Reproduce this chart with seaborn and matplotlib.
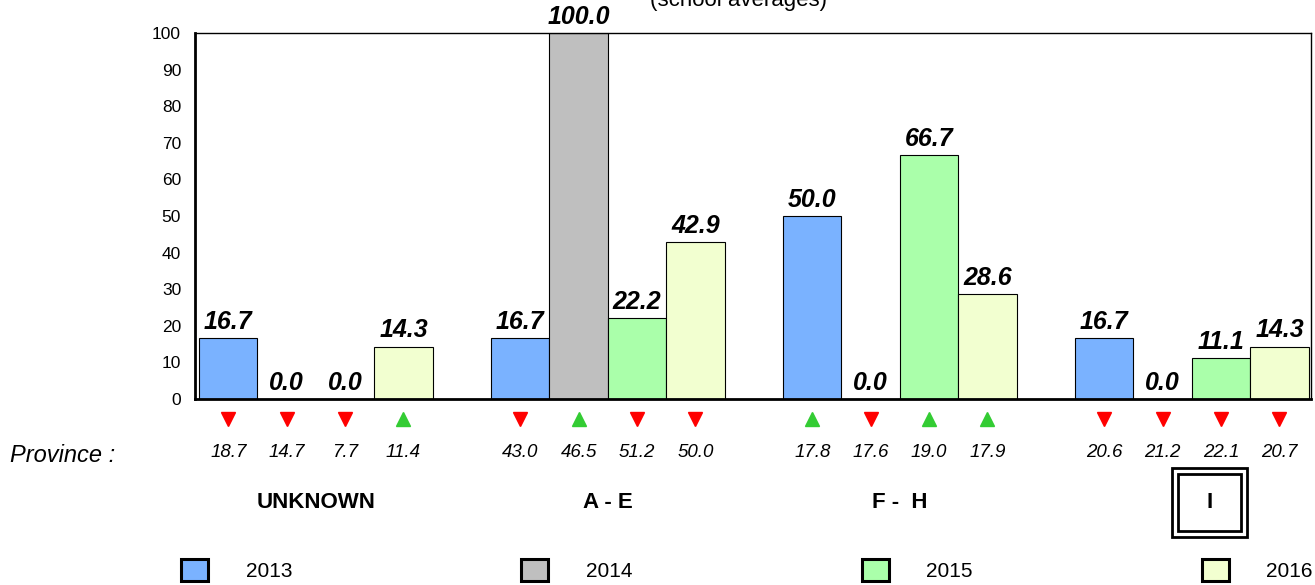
import numpy as np
import pandas as pd
import seaborn as sns
import matplotlib.pyplot as plt
from matplotlib.patches import Patch, Rectangle

groups = ['UNKNOWN', 'A - E', 'F -  H', 'I']
years = ['2013', '2014', '2015', '2016']

school_2013 = [16.7, 16.7, 50.0, 16.7]
school_2014 = [0.0, 100.0, 0.0, 0.0]
school_2015 = [0.0, 22.2, 66.7, 11.1]
school_2016 = [14.3, 42.9, 28.6, 14.3]

province_2013 = [18.7, 43.0, 17.8, 20.6]
province_2014 = [14.7, 46.5, 17.6, 21.2]
province_2015 = [7.7, 51.2, 19.0, 22.1]
province_2016 = [11.4, 50.0, 17.9, 20.7]

# 1 = green arrow up, 0 = red arrow down
trend_2013 = [0, 0, 1, 0]
trend_2014 = [0, 1, 0, 0]
trend_2015 = [0, 0, 1, 0]
trend_2016 = [1, 0, 1, 0]

colors = ['#7AB2FF', '#BFBFBF', '#AAFFAA', '#F2FFD0']

school = [school_2013, school_2014, school_2015, school_2016]
province = [province_2013, province_2014, province_2015, province_2016]
trend = [trend_2013, trend_2014, trend_2015, trend_2016]

df = pd.DataFrame({
    'Group': np.tile(groups, len(years)),
    'Year': np.repeat(years, len(groups)),
    'Value': np.concatenate(school),
})

sns.set_style("white")
plt.rcParams['font.family'] = ['Liberation Sans', 'DejaVu Sans']
plt.rcParams['text.color'] = 'black'
plt.rcParams['ytick.color'] = 'black'
plt.rcParams['xtick.color'] = 'black'

fig = plt.figure(figsize=(13.15, 5.85), dpi=100)
ax = fig.add_axes([195 / 1315, 1 - 399 / 585, 1116 / 1315, 366 / 585])

sns.barplot(data=df, x='Group', y='Value', hue='Year', order=groups, hue_order=years,
            palette=colors, edgecolor='black', linewidth=0.8, width=0.8,
            legend=False, ax=ax, saturation=1)

ax.set_xlim(-0.414, 3.408)
ax.set_ylim(0, 100)
ax.set_yticks(range(0, 101, 10))
ax.tick_params(axis='y', labelsize=12.5, length=0, pad=10)
ax.set_xticks([])
ax.set_xlabel('')
ax.set_ylabel('')
for side in ['top', 'right']:
    ax.spines[side].set_linewidth(1)
    ax.spines[side].set_color('black')
for side in ['left', 'bottom']:
    ax.spines[side].set_linewidth(2)
    ax.spines[side].set_color('black')

for container in ax.containers:
    ax.bar_label(container, fmt='%.1f', padding=3, fontsize=18,
                 fontweight='bold', fontstyle='italic')

trans = ax.get_xaxis_transform()
for k, container in enumerate(ax.containers):
    for i, bar in enumerate(container.patches):
        xc = bar.get_x() + bar.get_width() / 2
        if trend[k][i]:
            ax.plot(xc, -0.055, marker='^', color='#33CC33', markersize=10.5,
                    transform=trans, clip_on=False)
        else:
            ax.plot(xc, -0.055, marker='v', color='#FF0000', markersize=10.5,
                    transform=trans, clip_on=False)
        ax.text(xc, -0.145, f'{province[k][i]:.1f}', transform=trans, ha='center',
                va='center', fontsize=13.5, fontstyle='italic')

for i, g in enumerate(groups):
    ax.text(i + (0.06 if i == 3 else 0), -0.284, g, transform=trans, ha='center',
            va='center', fontsize=16, fontweight='bold')

# double box around the last group label
box_x = 3.06
for w, h in [(0.257, 0.1885), (0.216, 0.156)]:
    ax.add_patch(Rectangle((box_x - w / 2, -0.284 - h / 2), w, h, transform=trans,
                           fill=False, edgecolor='black', linewidth=2, clip_on=False))

fig.text(10 / 1315, 1 - 455 / 585, 'Province :', fontsize=17, fontstyle='italic',
         ha='left', va='center')
fig.text(738 / 1315, 1 - 6 / 585, '(school averages)', fontsize=16, ha='center',
         va='baseline')

handles = [Patch(facecolor=c, edgecolor='black', linewidth=2.2) for c in colors]
fig.legend(handles, years, loc='center', bbox_to_anchor=(747 / 1315, 1 - 570 / 585),
           ncol=4, frameon=False, fontsize=15, handlelength=1.3, handleheight=1.3,
           handletextpad=1.8, columnspacing=11)

fig.savefig('out.png', dpi=100)
